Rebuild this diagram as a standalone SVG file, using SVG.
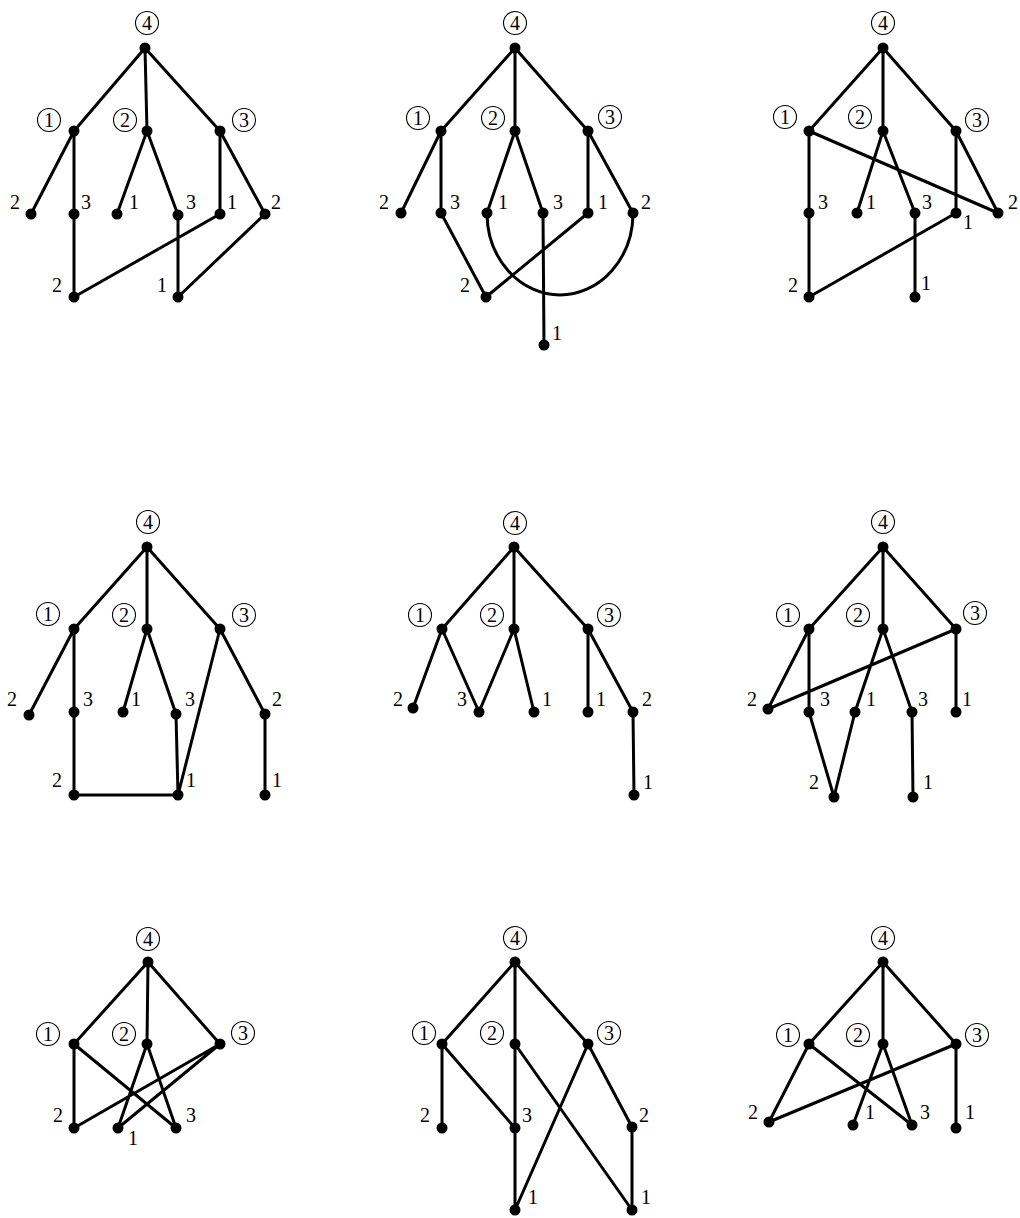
<svg xmlns="http://www.w3.org/2000/svg" width="1020" height="1218" viewBox="0 0 1020 1218">
<style>
.e{stroke:#000;stroke-width:3;fill:none;stroke-linecap:round}
.d{fill:#000}
.c{fill:none;stroke:#000;stroke-width:1.1}
text{font-family:"Liberation Serif","Times New Roman",serif;font-size:20px;text-anchor:middle;fill:#000}
</style>
<rect width="1020" height="1218" fill="#fff"/>

<!-- Panel 1 -->
<g id="panel1">
<g id="p1-edges">
<path class="e" d="M145,48L74,131M145,48L147,131M145,48L220,131M74,131L31,214M74,131L74,214M147,131L117,214M147,131L178,215M220,131L220,214M220,131L265,214M74,214L74,297M220,214L74,297M178,215L178,297M265,214L178,297"/>
</g>
<g id="p1-r"><circle class="d" cx="145" cy="48" r="5.5"/><circle class="c" cx="147" cy="23" r="11.5"/><text x="147" y="29.8">4</text></g>
<g id="p1-a1"><circle class="d" cx="74" cy="131" r="5.5"/><circle class="c" cx="49" cy="120" r="11.5"/><text x="49" y="126.8">1</text></g>
<g id="p1-a2"><circle class="d" cx="147" cy="131" r="5.5"/><circle class="c" cx="125" cy="120" r="11.5"/><text x="125" y="126.8">2</text></g>
<g id="p1-a3"><circle class="d" cx="220" cy="131" r="5.5"/><circle class="c" cx="244" cy="120" r="11.5"/><text x="244" y="126.8">3</text></g>
<g id="p1-l1"><circle class="d" cx="31" cy="214" r="5.5"/><text x="15" y="208.8">2</text></g>
<g id="p1-l2"><circle class="d" cx="74" cy="214" r="5.5"/><text x="86" y="208.8">3</text></g>
<g id="p1-l3"><circle class="d" cx="117" cy="214" r="5.5"/><text x="134" y="208.8">1</text></g>
<g id="p1-l4"><circle class="d" cx="178" cy="215" r="5.5"/><text x="191" y="208.8">3</text></g>
<g id="p1-l5"><circle class="d" cx="220" cy="214" r="5.5"/><text x="232" y="208.8">1</text></g>
<g id="p1-l6"><circle class="d" cx="265" cy="214" r="5.5"/><text x="276" y="208.8">2</text></g>
<g id="p1-b1"><circle class="d" cx="74" cy="297" r="5.5"/><text x="57" y="291.8">2</text></g>
<g id="p1-b2"><circle class="d" cx="178" cy="297" r="5.5"/><text x="162" y="291.8">1</text></g>
</g>

<!-- Panel 2 -->
<g id="panel2">
<g id="p2-edges">
<path class="e" d="M515,48L441,131M515,48L515,131M515,48L588,131M441,131L401,213M441,131L441,213M515,131L487,213M515,131L543,213M588,131L588,213M588,131L633,213M441,213L486,297M588,213L486,297M543,213L544,345"/>
<path class="e" d="M487,213A73,82 0 0,0 633,213"/>
</g>
<g id="p2-r"><circle class="d" cx="515" cy="48" r="5.5"/><circle class="c" cx="515" cy="23" r="11.5"/><text x="515" y="29.8">4</text></g>
<g id="p2-a1"><circle class="d" cx="441" cy="131" r="5.5"/><circle class="c" cx="418" cy="118" r="11.5"/><text x="418" y="124.8">1</text></g>
<g id="p2-a2"><circle class="d" cx="515" cy="131" r="5.5"/><circle class="c" cx="493" cy="118" r="11.5"/><text x="493" y="124.8">2</text></g>
<g id="p2-a3"><circle class="d" cx="588" cy="131" r="5.5"/><circle class="c" cx="610" cy="117" r="11.5"/><text x="610" y="123.8">3</text></g>
<g id="p2-l1"><circle class="d" cx="401" cy="213" r="5.5"/><text x="384" y="208.8">2</text></g>
<g id="p2-l2"><circle class="d" cx="441" cy="213" r="5.5"/><text x="455" y="208.8">3</text></g>
<g id="p2-l3"><circle class="d" cx="487" cy="213" r="5.5"/><text x="503" y="208.8">1</text></g>
<g id="p2-l4"><circle class="d" cx="543" cy="213" r="5.5"/><text x="558" y="208.8">3</text></g>
<g id="p2-l5"><circle class="d" cx="588" cy="213" r="5.5"/><text x="603" y="208.8">1</text></g>
<g id="p2-l6"><circle class="d" cx="633" cy="213" r="5.5"/><text x="646" y="208.8">2</text></g>
<g id="p2-b1"><circle class="d" cx="486" cy="297" r="5.5"/><text x="465" y="291.8">2</text></g>
<g id="p2-b2"><circle class="d" cx="544" cy="345" r="5.5"/><text x="557" y="339.8">1</text></g>
</g>

<!-- Panel 3 -->
<g id="panel3">
<g id="p3-edges">
<path class="e" d="M883,48L809,131M883,48L883,131M883,48L956,131M809,131L809,213M809,131L998,213M883,131L857,213M883,131L915,213M956,131L956,213M956,131L998,213M809,213L809,297M956,213L809,297M915,213L915,297"/>
</g>
<g id="p3-r"><circle class="d" cx="883" cy="48" r="5.5"/><circle class="c" cx="883" cy="23" r="11.5"/><text x="883" y="29.8">4</text></g>
<g id="p3-a1"><circle class="d" cx="809" cy="131" r="5.5"/><circle class="c" cx="785" cy="117" r="11.5"/><text x="785" y="123.8">1</text></g>
<g id="p3-a2"><circle class="d" cx="883" cy="131" r="5.5"/><circle class="c" cx="860" cy="117" r="11.5"/><text x="860" y="123.8">2</text></g>
<g id="p3-a3"><circle class="d" cx="956" cy="131" r="5.5"/><circle class="c" cx="977" cy="120" r="11.5"/><text x="977" y="126.8">3</text></g>
<g id="p3-l1"><circle class="d" cx="809" cy="213" r="5.5"/><text x="823" y="208.8">3</text></g>
<g id="p3-l2"><circle class="d" cx="857" cy="213" r="5.5"/><text x="871" y="208.8">1</text></g>
<g id="p3-l3"><circle class="d" cx="915" cy="213" r="5.5"/><text x="927" y="208.8">3</text></g>
<g id="p3-l4"><circle class="d" cx="956" cy="213" r="5.5"/><text x="968" y="228.8">1</text></g>
<g id="p3-l5"><circle class="d" cx="998" cy="213" r="5.5"/><text x="1013" y="208.8">2</text></g>
<g id="p3-b1"><circle class="d" cx="809" cy="297" r="5.5"/><text x="793" y="291.8">2</text></g>
<g id="p3-b2"><circle class="d" cx="915" cy="297" r="5.5"/><text x="926" y="289.8">1</text></g>
</g>

<!-- Panel 4 -->
<g id="panel4">
<g id="p4-edges">
<path class="e" d="M147,547L74,629M147,547L147,629M147,547L220,629M74,629L29,715M74,629L74,712M147,629L123,712M147,629L176,714M220,629L178,795M220,629L265,714M74,712L74,795M74,795L178,795M176,714L178,795M265,714L265,795"/>
</g>
<g id="p4-r"><circle class="d" cx="147" cy="547" r="5.5"/><circle class="c" cx="148" cy="522" r="11.5"/><text x="148" y="528.8">4</text></g>
<g id="p4-a1"><circle class="d" cx="74" cy="629" r="5.5"/><circle class="c" cx="48" cy="614" r="11.5"/><text x="48" y="620.8">1</text></g>
<g id="p4-a2"><circle class="d" cx="147" cy="629" r="5.5"/><circle class="c" cx="124" cy="615" r="11.5"/><text x="124" y="621.8">2</text></g>
<g id="p4-a3"><circle class="d" cx="220" cy="629" r="5.5"/><circle class="c" cx="244" cy="615" r="11.5"/><text x="244" y="621.8">3</text></g>
<g id="p4-l1"><circle class="d" cx="29" cy="715" r="5.5"/><text x="12" y="705.8">2</text></g>
<g id="p4-l2"><circle class="d" cx="74" cy="712" r="5.5"/><text x="88" y="705.8">3</text></g>
<g id="p4-l3"><circle class="d" cx="123" cy="712" r="5.5"/><text x="136" y="705.8">1</text></g>
<g id="p4-l4"><circle class="d" cx="176" cy="714" r="5.5"/><text x="190" y="705.8">3</text></g>
<g id="p4-l5"><circle class="d" cx="265" cy="714" r="5.5"/><text x="277" y="705.8">2</text></g>
<g id="p4-b1"><circle class="d" cx="74" cy="795" r="5.5"/><text x="57" y="786.8">2</text></g>
<g id="p4-b2"><circle class="d" cx="178" cy="795" r="5.5"/><text x="191" y="786.8">1</text></g>
<g id="p4-b3"><circle class="d" cx="265" cy="795" r="5.5"/><text x="277" y="786.8">1</text></g>
</g>

<!-- Panel 5 -->
<g id="panel5">
<g id="p5-edges">
<path class="e" d="M514,547L442,629M514,547L514,629M514,547L588,629M442,629L413,708M442,629L479,712M514,629L479,712M514,629L534,712M588,629L588,712M588,629L633,712M633,712L634,795"/>
</g>
<g id="p5-r"><circle class="d" cx="514" cy="547" r="5.5"/><circle class="c" cx="515" cy="523" r="11.5"/><text x="515" y="529.8">4</text></g>
<g id="p5-a1"><circle class="d" cx="442" cy="629" r="5.5"/><circle class="c" cx="420" cy="615" r="11.5"/><text x="420" y="621.8">1</text></g>
<g id="p5-a2"><circle class="d" cx="514" cy="629" r="5.5"/><circle class="c" cx="492" cy="615" r="11.5"/><text x="492" y="621.8">2</text></g>
<g id="p5-a3"><circle class="d" cx="588" cy="629" r="5.5"/><circle class="c" cx="609" cy="615" r="11.5"/><text x="609" y="621.8">3</text></g>
<g id="p5-l1"><circle class="d" cx="413" cy="708" r="5.5"/><text x="398" y="705.8">2</text></g>
<g id="p5-l2"><circle class="d" cx="479" cy="712" r="5.5"/><text x="462" y="705.8">3</text></g>
<g id="p5-l3"><circle class="d" cx="534" cy="712" r="5.5"/><text x="547" y="705.8">1</text></g>
<g id="p5-l4"><circle class="d" cx="588" cy="712" r="5.5"/><text x="601" y="705.8">1</text></g>
<g id="p5-l5"><circle class="d" cx="633" cy="712" r="5.5"/><text x="647" y="705.8">2</text></g>
<g id="p5-b1"><circle class="d" cx="634" cy="795" r="5.5"/><text x="648" y="788.8">1</text></g>
</g>

<!-- Panel 6 -->
<g id="panel6">
<g id="p6-edges">
<path class="e" d="M883,547L809,629M883,547L883,629M883,547L956,629M809,629L768,709M809,629L809,712M956,629L768,709M883,629L855,712M883,629L912,712M956,629L956,712M809,712L834,797M855,712L834,797M912,712L913,797"/>
</g>
<g id="p6-r"><circle class="d" cx="883" cy="547" r="5.5"/><circle class="c" cx="883" cy="522" r="11.5"/><text x="883" y="528.8">4</text></g>
<g id="p6-a1"><circle class="d" cx="809" cy="629" r="5.5"/><circle class="c" cx="788" cy="615" r="11.5"/><text x="788" y="621.8">1</text></g>
<g id="p6-a2"><circle class="d" cx="883" cy="629" r="5.5"/><circle class="c" cx="858" cy="615" r="11.5"/><text x="858" y="621.8">2</text></g>
<g id="p6-a3"><circle class="d" cx="956" cy="629" r="5.5"/><circle class="c" cx="975" cy="613" r="11.5"/><text x="975" y="619.8">3</text></g>
<g id="p6-l1"><circle class="d" cx="768" cy="709" r="5.5"/><text x="752" y="705.8">2</text></g>
<g id="p6-l2"><circle class="d" cx="809" cy="712" r="5.5"/><text x="825" y="705.8">3</text></g>
<g id="p6-l3"><circle class="d" cx="855" cy="712" r="5.5"/><text x="871" y="705.8">1</text></g>
<g id="p6-l4"><circle class="d" cx="912" cy="712" r="5.5"/><text x="923" y="705.8">3</text></g>
<g id="p6-l5"><circle class="d" cx="956" cy="712" r="5.5"/><text x="967" y="705.8">1</text></g>
<g id="p6-b1"><circle class="d" cx="834" cy="797" r="5.5"/><text x="814" y="788.8">2</text></g>
<g id="p6-b2"><circle class="d" cx="913" cy="797" r="5.5"/><text x="928" y="788.8">1</text></g>
</g>

<!-- Panel 7 -->
<g id="panel7">
<g id="p7-edges">
<path class="e" d="M148,962L74,1044M148,962L147,1044M148,962L220,1044M74,1044L74,1128M74,1044L176,1128M147,1044L118,1128M147,1044L176,1128M220,1044L74,1128M220,1044L118,1128"/>
</g>
<g id="p7-r"><circle class="d" cx="148" cy="962" r="5.5"/><circle class="c" cx="148" cy="939" r="11.5"/><text x="148" y="945.8">4</text></g>
<g id="p7-a1"><circle class="d" cx="74" cy="1044" r="5.5"/><circle class="c" cx="48" cy="1034" r="11.5"/><text x="48" y="1040.8">1</text></g>
<g id="p7-a2"><circle class="d" cx="147" cy="1044" r="5.5"/><circle class="c" cx="124" cy="1034" r="11.5"/><text x="124" y="1040.8">2</text></g>
<g id="p7-a3"><circle class="d" cx="220" cy="1044" r="5.5"/><circle class="c" cx="243" cy="1033" r="11.5"/><text x="243" y="1039.8">3</text></g>
<g id="p7-l1"><circle class="d" cx="74" cy="1128" r="5.5"/><text x="58" y="1121.8">2</text></g>
<g id="p7-l2"><circle class="d" cx="118" cy="1128" r="5.5"/><text x="133" y="1144.8">1</text></g>
<g id="p7-l3"><circle class="d" cx="176" cy="1128" r="5.5"/><text x="191" y="1121.8">3</text></g>
</g>

<!-- Panel 8 -->
<g id="panel8">
<g id="p8-edges">
<path class="e" d="M515,962L442,1044M515,962L515,1044M515,962L588,1044M442,1044L442,1128M442,1044L515,1128M515,1044L515,1128M515,1044L632,1210M588,1044L515,1210M588,1044L632,1127M515,1128L515,1210M632,1127L632,1210"/>
</g>
<g id="p8-r"><circle class="d" cx="515" cy="962" r="5.5"/><circle class="c" cx="515" cy="938" r="11.5"/><text x="515" y="944.8">4</text></g>
<g id="p8-a1"><circle class="d" cx="442" cy="1044" r="5.5"/><circle class="c" cx="424" cy="1033" r="11.5"/><text x="424" y="1039.8">1</text></g>
<g id="p8-a2"><circle class="d" cx="515" cy="1044" r="5.5"/><circle class="c" cx="492" cy="1033" r="11.5"/><text x="492" y="1039.8">2</text></g>
<g id="p8-a3"><circle class="d" cx="588" cy="1044" r="5.5"/><circle class="c" cx="609" cy="1033" r="11.5"/><text x="609" y="1039.8">3</text></g>
<g id="p8-l1"><circle class="d" cx="442" cy="1128" r="5.5"/><text x="425" y="1121.8">2</text></g>
<g id="p8-l2"><circle class="d" cx="515" cy="1128" r="5.5"/><text x="527" y="1121.8">3</text></g>
<g id="p8-l3"><circle class="d" cx="632" cy="1127" r="5.5"/><text x="644" y="1121.8">2</text></g>
<g id="p8-b1"><circle class="d" cx="515" cy="1210" r="5.5"/><text x="533" y="1203.8">1</text></g>
<g id="p8-b2"><circle class="d" cx="632" cy="1210" r="5.5"/><text x="646" y="1203.8">1</text></g>
</g>

<!-- Panel 9 -->
<g id="panel9">
<g id="p9-edges">
<path class="e" d="M883,962L809,1044M883,962L883,1044M883,962L956,1044M809,1044L769,1122M809,1044L912,1125M956,1044L769,1122M883,1044L853,1125M883,1044L912,1125M956,1044L956,1128"/>
</g>
<g id="p9-r"><circle class="d" cx="883" cy="962" r="5.5"/><circle class="c" cx="883" cy="938" r="11.5"/><text x="883" y="944.8">4</text></g>
<g id="p9-a1"><circle class="d" cx="809" cy="1044" r="5.5"/><circle class="c" cx="788" cy="1035" r="11.5"/><text x="788" y="1041.8">1</text></g>
<g id="p9-a2"><circle class="d" cx="883" cy="1044" r="5.5"/><circle class="c" cx="858" cy="1035" r="11.5"/><text x="858" y="1041.8">2</text></g>
<g id="p9-a3"><circle class="d" cx="956" cy="1044" r="5.5"/><circle class="c" cx="977" cy="1035" r="11.5"/><text x="977" y="1041.8">3</text></g>
<g id="p9-l1"><circle class="d" cx="769" cy="1122" r="5.5"/><text x="753" y="1118.8">2</text></g>
<g id="p9-l2"><circle class="d" cx="853" cy="1125" r="5.5"/><text x="870" y="1118.8">1</text></g>
<g id="p9-l3"><circle class="d" cx="912" cy="1125" r="5.5"/><text x="925" y="1118.8">3</text></g>
<g id="p9-l4"><circle class="d" cx="956" cy="1128" r="5.5"/><text x="970" y="1118.8">1</text></g>
</g>
</svg>
